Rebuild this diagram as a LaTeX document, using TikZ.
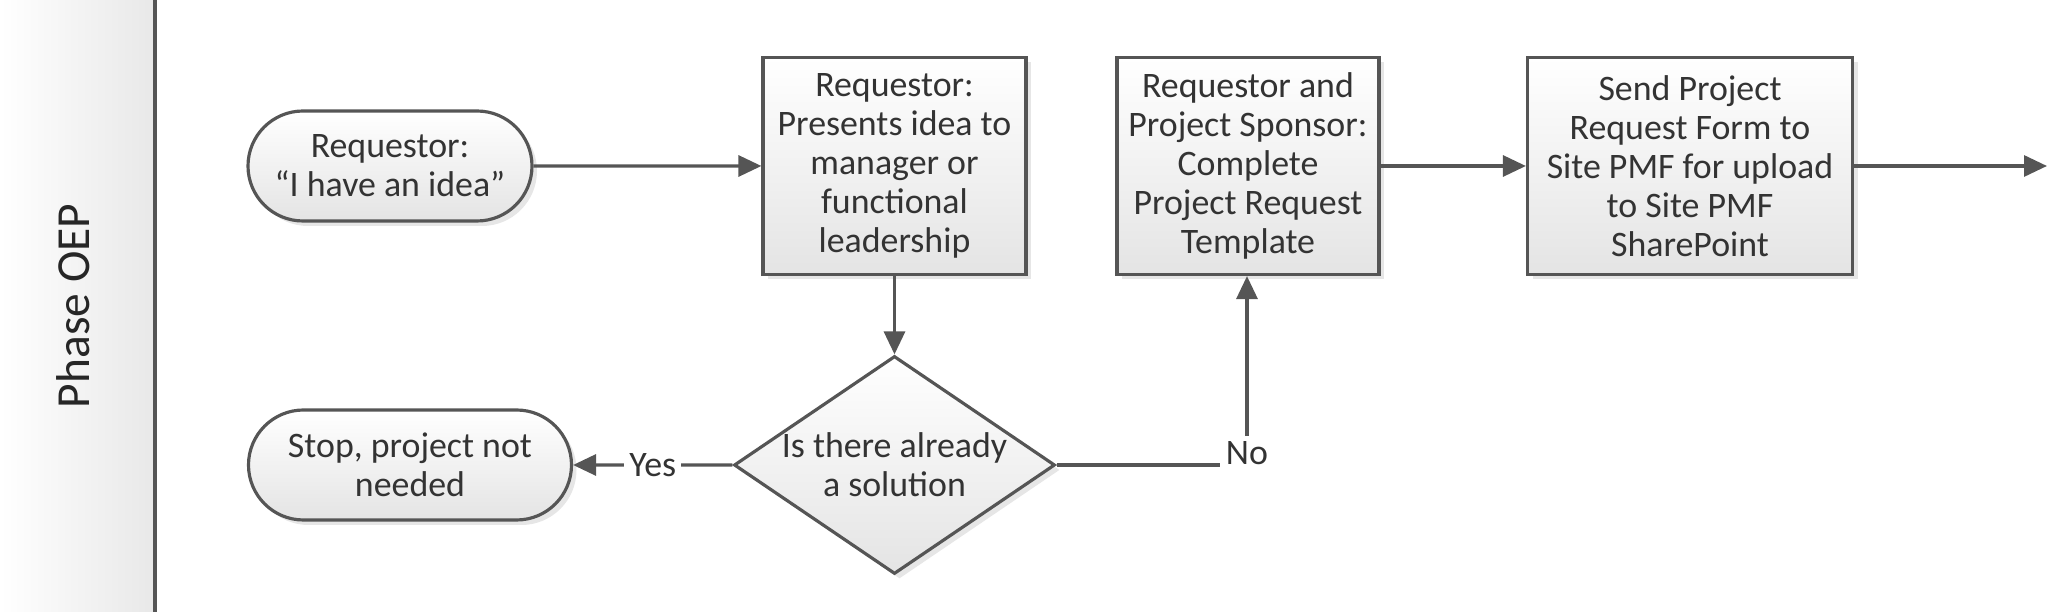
\documentclass[tikz,border=0pt]{standalone}
\usepackage{fontspec}
\setmainfont{Carlito}
\usetikzlibrary{shapes.geometric, shapes.misc, arrows.meta, shadows}

\definecolor{linegray}{HTML}{555555}
\definecolor{textgray}{HTML}{333333}
\definecolor{boxgray}{HTML}{E4E4E4}
\definecolor{lanegray}{HTML}{E8E8E8}

\begin{document}
\begin{tikzpicture}[font=\fontsize{10.2}{11.1}\selectfont]

    \useasboundingbox (0,0) rectangle (20.48,6.12);

    \tikzset{
        box/.style={draw=linegray, line width=0.9pt, top color=white, bottom color=boxgray,
            text=textgray, align=center, inner sep=0pt, minimum height=2.17cm,
            drop shadow={shadow xshift=0.5mm, shadow yshift=-0.5mm, opacity=0.2}},
        term/.style={box, rounded rectangle, minimum height=1.1cm},
        decide/.style={box, diamond, aspect=1.47, minimum width=3.21cm, minimum height=2.18cm},
        flow/.style={draw=linegray, line width=0.9pt, -{Triangle[length=2.3mm, width=2.1mm]}},
        link/.style={draw=linegray, line width=0.9pt},
        lbl/.style={text=textgray, inner sep=1.5pt, fill=white}
    }

    % Lane header
    \shade[left color=white, right color=lanegray] (0,0) rectangle (1.55,6.12);
    \draw[linegray, line width=0.9pt] (1.55,0) -- (1.55,6.12);
    \node[rotate=90, font=\fontsize{13.5}{16}\selectfont, text=black!85] (lane) at (0.73,3.06) {Phase OEP};

    % Steps
    \node[term, minimum width=2.84cm] (idea) at (3.90,4.46) {Requestor:\\“I have an idea”};
    \node[box, minimum width=2.63cm] (present) at (8.945,4.46) {Requestor:\\Presents idea to\\manager or\\functional\\leadership};
    \node[box, minimum width=2.62cm] (complete) at (12.48,4.46) {Requestor and\\Project Sponsor:\\Complete\\Project Request\\Template};
    \node[box, minimum width=3.25cm] (send) at (16.90,4.46) {Send Project\\Request Form to\\Site PMF for upload\\to Site PMF\\SharePoint};
    \node[decide] (check) at (8.945,1.47) {Is there already\\a solution};
    \node[term, minimum width=3.23cm] (stop) at (4.10,1.47) {Stop, project not\\needed};
    \node[lbl, fill=none, anchor=base] (no) at (12.47,1.47) {No};
    \coordinate (out) at (20.47,4.46);

    % Connectors
    \draw[flow] (idea) -- (present);
    \draw[flow] (present) -- (check);
    \draw[flow] (check) -- node[lbl] {Yes} (stop);
    \draw[link] (check.east) -- (check.east -| no.west);
    \draw[flow] (no.north) -- (no.north |- complete.south);
    \draw[flow] (complete) -- (send);
    \draw[flow] (send) -- (out);

\end{tikzpicture}
\end{document}
